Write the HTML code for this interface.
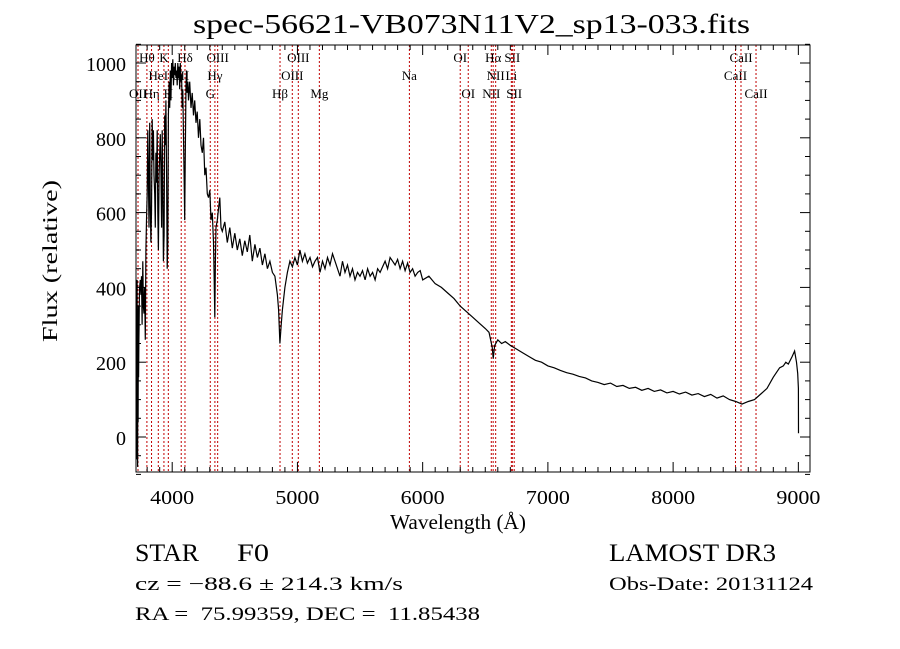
<!DOCTYPE html>
<html><head><meta charset="utf-8"><style>
html,body{margin:0;padding:0;background:#fff;}
svg{display:block;font-family:"Liberation Serif",serif;}
</style></head><body>
<svg id="chart" width="900" height="649" viewBox="0 0 900 649" xmlns="http://www.w3.org/2000/svg">
<rect width="900" height="649" fill="#fff"/>
<text x="193" y="33" font-size="27" textLength="557" lengthAdjust="spacingAndGlyphs">spec-56621-VB073N11V2_sp13-033.fits</text>
<g id="lines"></g>
<g id="axes"></g>
<path id="spec" fill="none" stroke="#000" stroke-width="1.2"/>
<text x="390" y="529" font-size="21" textLength="136" lengthAdjust="spacingAndGlyphs">Wavelength (Å)</text>
<text transform="translate(57,342) rotate(-90)" font-size="21" textLength="162" lengthAdjust="spacingAndGlyphs">Flux (relative)</text>
<text x="135" y="561" font-size="25" textLength="64" lengthAdjust="spacingAndGlyphs">STAR</text>
<text x="237" y="561" font-size="25" textLength="32" lengthAdjust="spacingAndGlyphs">F0</text>
<text x="609" y="561" font-size="25" textLength="167" lengthAdjust="spacingAndGlyphs">LAMOST DR3</text>
<text x="135" y="590" font-size="19" textLength="268" lengthAdjust="spacingAndGlyphs">cz = −88.6 ± 214.3 km/s</text>
<text x="609" y="590" font-size="19" textLength="204" lengthAdjust="spacingAndGlyphs">Obs-Date: 20131124</text>
<text x="135" y="620" font-size="19" textLength="345" lengthAdjust="spacingAndGlyphs" xml:space="preserve">RA =  75.99359, DEC =  11.85438</text>
</svg>
<script>
const xTicks=[4000,5000,6000,7000,8000,9000];
const yTicks=[0,200,400,600,800,1000];
const lineWaves=[3727,3798,3835,3889,3934,3969,4072,4102,4304,4341,4363,4861,4959,5007,5175,5894,6300,6364,6548,6563,6583,6708,6716,6731,8498,8542,8662];
const lineNames=["OII","Hθ","Hη","HeI","K","H","SII","Hδ","G","Hγ","OIII","Hβ","OIII","OIII","Mg","Na","OI","OI","NII","Hα","NII","Li","SII","SII","CaII","CaII","CaII"];
const lineRows=[2,0,2,1,0,2,1,0,2,1,0,2,1,0,2,1,0,2,2,0,1,1,0,2,1,0,2];
const wavesBlue=[3712,3714,3716,3718,3720,3722,3724,3726,3728,3730,3732,3734,3736,3738,3740,3745,3750,3755,3760,3765,3770,3775,3780,3785,3790,3795,3800,3805,3810,3815,3820,3825,3830,3835,3840,3845,3850,3855,3860,3865,3870,3875,3880,3885,3890,3895,3900,3905,3910,3915,3920,3925,3930,3935,3940,3945,3950,3955,3960,3965,3970,3975,3980,3985,3990,3995,4000,4005,4010,4015,4020,4025,4030,4035,4040,4045,4050,4055,4060,4065,4070,4075,4080,4085,4090,4095,4100,4105,4110,4115,4120,4125,4130,4140,4150,4160,4170,4180,4190,4200,4210,4220,4230,4240,4250,4260,4270,4280,4290,4300,4310,4320,4330,4335,4340,4345,4350,4360,4370,4380,4390];
const fluxBlue=[250,40,300,-60,420,100,-80,200,40,350,160,260,300,380,400,420,380,430,300,470,350,330,400,260,500,580,650,820,700,560,840,620,520,600,850,740,820,700,650,560,760,680,820,600,500,700,760,810,720,560,820,680,470,540,860,780,900,700,450,520,860,950,880,980,900,1000,960,1010,940,990,970,1000,960,980,940,1000,960,990,930,1000,950,970,880,930,800,700,580,760,940,980,920,950,900,950,880,920,860,900,840,870,800,850,780,760,800,700,720,650,640,660,580,600,520,420,320,470,560,580,610,640,560];
const wavesRed=[4400,4420,4440,4460,4480,4500,4520,4540,4560,4580,4600,4620,4640,4660,4680,4700,4720,4740,4760,4780,4800,4820,4840,4850,4860,4870,4880,4900,4920,4940,4960,4980,5000,5020,5040,5060,5080,5100,5120,5140,5160,5180,5200,5220,5240,5260,5280,5300,5320,5340,5360,5380,5400,5420,5440,5460,5480,5500,5520,5540,5560,5580,5600,5620,5640,5660,5680,5700,5720,5740,5760,5780,5800,5820,5840,5860,5880,5900,5920,5940,5960,5980,6000,6050,6100,6150,6200,6250,6300,6350,6400,6450,6500,6530,6555,6563,6575,6600,6630,6660,6700,6750,6800,6850,6900,6950,7000,7050,7100,7150,7200,7250,7300,7350,7400,7450,7500,7550,7600,7650,7700,7750,7800,7850,7900,7950,8000,8050,8100,8150,8200,8250,8300,8350,8400,8450,8500,8550,8600,8650,8700,8750,8800,8850,8880,8900,8920,8950,8970,8985,8995,9000,9001];
const fluxRed=[550,575,520,560,505,545,500,530,485,525,495,540,470,515,480,505,460,490,450,470,440,430,380,340,250,300,340,400,440,470,455,480,460,500,470,490,465,480,455,470,480,440,470,450,480,460,490,470,450,430,470,440,460,430,450,420,440,430,445,420,450,430,440,420,450,440,455,470,450,480,470,460,475,450,470,445,465,440,450,430,440,445,420,430,410,400,385,370,350,335,320,305,290,280,240,210,245,260,250,255,245,235,225,215,205,200,190,185,178,172,168,162,158,150,146,140,144,135,138,130,133,125,130,122,126,118,122,115,120,112,116,108,114,104,110,100,95,88,95,100,115,130,160,185,190,200,195,215,230,200,170,130,10];
const waves=wavesBlue.concat(wavesRed);
const flux=fluxBlue.concat(fluxRed);
const X=l=>172.2+(l-4000)*0.12523;
const Y=v=>437-v*0.374;
const L=136,R=810,T=45,B=472;
const ns="http://www.w3.org/2000/svg";
const ax=document.getElementById('axes');
function mk(tag,attrs,parent){const e=document.createElementNS(ns,tag);for(const k in attrs)e.setAttribute(k,attrs[k]);parent.appendChild(e);return e;}
const lg=document.getElementById('lines');
lineWaves.forEach((w,i)=>{
  const x=X(w);
  const ln=mk('line',{x1:x,x2:x,y1:T,y2:B,stroke:'#c00000','stroke-width':1,'stroke-dasharray':'2,2'},lg);
  
  
  const t=mk('text',{x:x,y:62+lineRows[i]*18,'font-size':13,'text-anchor':'middle'},lg);
  t.textContent=lineNames[i];
  
  
});
const frame=mk('rect',{x:L,y:T,width:R-L,height:B-T,fill:'none',stroke:'#000','stroke-width':1},ax);


for(let w=3800;w<=9000;w+=100){const x=X(w);const maj=w%1000===0;const len=maj?10:5;
  mk('line',{x1:x,x2:x,y1:B,y2:B-len,stroke:'#000'},ax);mk('line',{x1:x,x2:x,y1:T,y2:T+len,stroke:'#000'},ax);}
for(let v=-100;v<=1050;v+=50){const y=Y(v);const maj=v%200===0;const len=maj?10:5;
  mk('line',{x1:L,x2:L+len,y1:y,y2:y,stroke:'#000'},ax);mk('line',{x1:R,x2:R-len,y1:y,y2:y,stroke:'#000'},ax);}
xTicks.forEach(w=>{const t=mk('text',{x:X(w),y:504,'font-size':20,'text-anchor':'middle',textLength:44,lengthAdjust:'spacingAndGlyphs'},ax);t.textContent=w;
  
  });
yTicks.forEach(v=>{const t=mk('text',{x:126,y:Y(v)+8,'font-size':20,'text-anchor':'end'},ax);t.textContent=v;
  
  });
let d='';waves.forEach((w,i)=>{d+=(i?'L':'M')+X(w).toFixed(1)+','+Y(flux[i]).toFixed(1);});
document.getElementById('spec').setAttribute('d',d);
</script>
</body></html>
